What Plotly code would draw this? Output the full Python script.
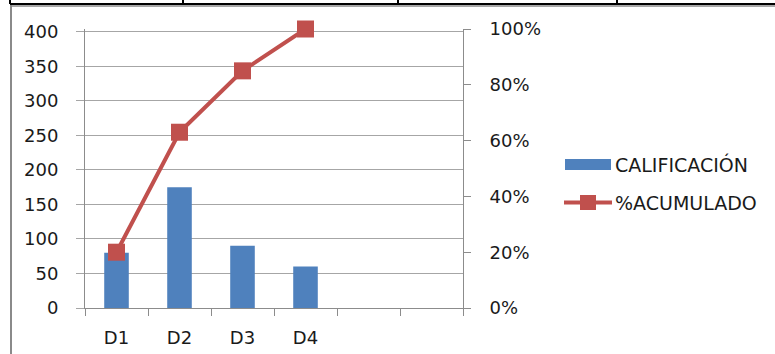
import plotly.graph_objects as go

# Pareto data
categories = ["D1", "D2", "D3", "D4", " ", "  "]
bar_labels = ["D1", "D2", "D3", "D4"]
calificacion = [80, 175, 90, 60]
acumulado = [0.20, 0.63, 0.85, 1.00]

BLUE = "#4F81BD"
RED = "#C0504D"
GRID = "#A6A6A6"
AXIS = "#8C8C8C"
TEXT = "#1a1a1a"
FONT = "DejaVu Sans"
TICK_SIZE = 18

W, H = 775, 354
L, R, T, B = 85, 312, 29, 46
PW, PH = W - L - R, H - T - B


def px(x):
    return (x - L) / PW


def py(y):
    return (H - B - y) / PH


fig = go.Figure()
fig.add_trace(go.Bar(
    x=bar_labels, y=calificacion, name="CALIFICACIÓN",
    marker=dict(color=BLUE, line=dict(width=0)), width=0.39,
    showlegend=False,
))
fig.add_trace(go.Scatter(
    x=bar_labels, y=acumulado, name="%ACUMULADO", yaxis="y2",
    mode="lines+markers", cliponaxis=False,
    line=dict(color=RED, width=4),
    marker=dict(symbol="square", size=17, color=RED),
    showlegend=False,
))

shapes = [
    # table rule above the chart
    dict(type="line", xref="paper", yref="paper", x0=px(10), x1=px(W + 5), y0=py(4), y1=py(4),
         line=dict(color="#000000", width=2)),
    # chart frame
    dict(type="line", xref="paper", yref="paper", x0=px(11), x1=px(W + 5), y0=py(6), y1=py(6),
         line=dict(color="#8a8a8a", width=1.5)),
    dict(type="line", xref="paper", yref="paper", x0=px(11), x1=px(11), y0=py(5), y1=py(H + 5),
         line=dict(color="#8a8a8a", width=2)),
]
for xd in [10, 183, 398, 617]:
    shapes.append(dict(type="line", xref="paper", yref="paper", x0=px(xd), x1=px(xd),
                       y0=py(-2), y1=py(4), line=dict(color="#000000", width=2)))

# legend entries
shapes.append(dict(type="rect", xref="paper", yref="paper", x0=px(565), x1=px(611),
                   y0=py(170), y1=py(159), fillcolor=BLUE, line=dict(width=0)))
shapes.append(dict(type="line", xref="paper", yref="paper", x0=px(564), x1=px(612),
                   y0=py(202.5), y1=py(202.5), line=dict(color=RED, width=4)))
shapes.append(dict(type="rect", xref="paper", yref="paper", x0=px(580), x1=px(596),
                   y0=py(210), y1=py(195), fillcolor=RED, line=dict(width=0)))

annotations = [
    dict(text="CALIFICACIÓN", xref="paper", yref="paper", x=px(613), y=py(164.5),
         xanchor="left", yanchor="middle", showarrow=False,
         font=dict(family=FONT, size=19, color=TEXT)),
    dict(text="%ACUMULADO", xref="paper", yref="paper", x=px(613), y=py(202.5),
         xanchor="left", yanchor="middle", showarrow=False,
         font=dict(family=FONT, size=19, color=TEXT)),
]

fig.update_layout(
    width=W, height=H,
    margin=dict(l=L, r=R, t=T, b=B, autoexpand=False),
    paper_bgcolor="white", plot_bgcolor="white",
    font=dict(family=FONT, size=TICK_SIZE, color=TEXT),
    showlegend=False,
    shapes=shapes,
    annotations=annotations,
    xaxis=dict(
        type="category", categoryorder="array", categoryarray=categories,
        range=[-0.5, 5.5], tickson="boundaries",
        ticks="outside", ticklen=7, tickcolor=AXIS, tickwidth=1,
        showline=True, linecolor=AXIS, linewidth=1,
        showgrid=False, ticklabelstandoff=13,
        tickfont=dict(family=FONT, size=TICK_SIZE, color=TEXT),
    ),
    yaxis=dict(
        range=[0, 404], tickvals=[0, 50, 100, 150, 200, 250, 300, 350, 400],
        showgrid=True, gridcolor=GRID, gridwidth=1,
        ticks="outside", ticklen=8, tickcolor=GRID,
        showline=True, linecolor=AXIS, linewidth=1,
        zeroline=False, ticklabelstandoff=14,
        tickfont=dict(family=FONT, size=TICK_SIZE, color=TEXT),
    ),
    yaxis2=dict(
        overlaying="y", side="right", range=[0, 1.0],
        tickvals=[0, 0.2, 0.4, 0.6, 0.8, 1.0], tickformat=".0%",
        showgrid=False, ticks="outside", ticklen=7, tickcolor=AXIS,
        showline=True, linecolor=AXIS, linewidth=1, zeroline=False,
        ticklabelstandoff=15,
        tickfont=dict(family=FONT, size=TICK_SIZE, color=TEXT),
    ),
)

fig.write_html("out.html")
